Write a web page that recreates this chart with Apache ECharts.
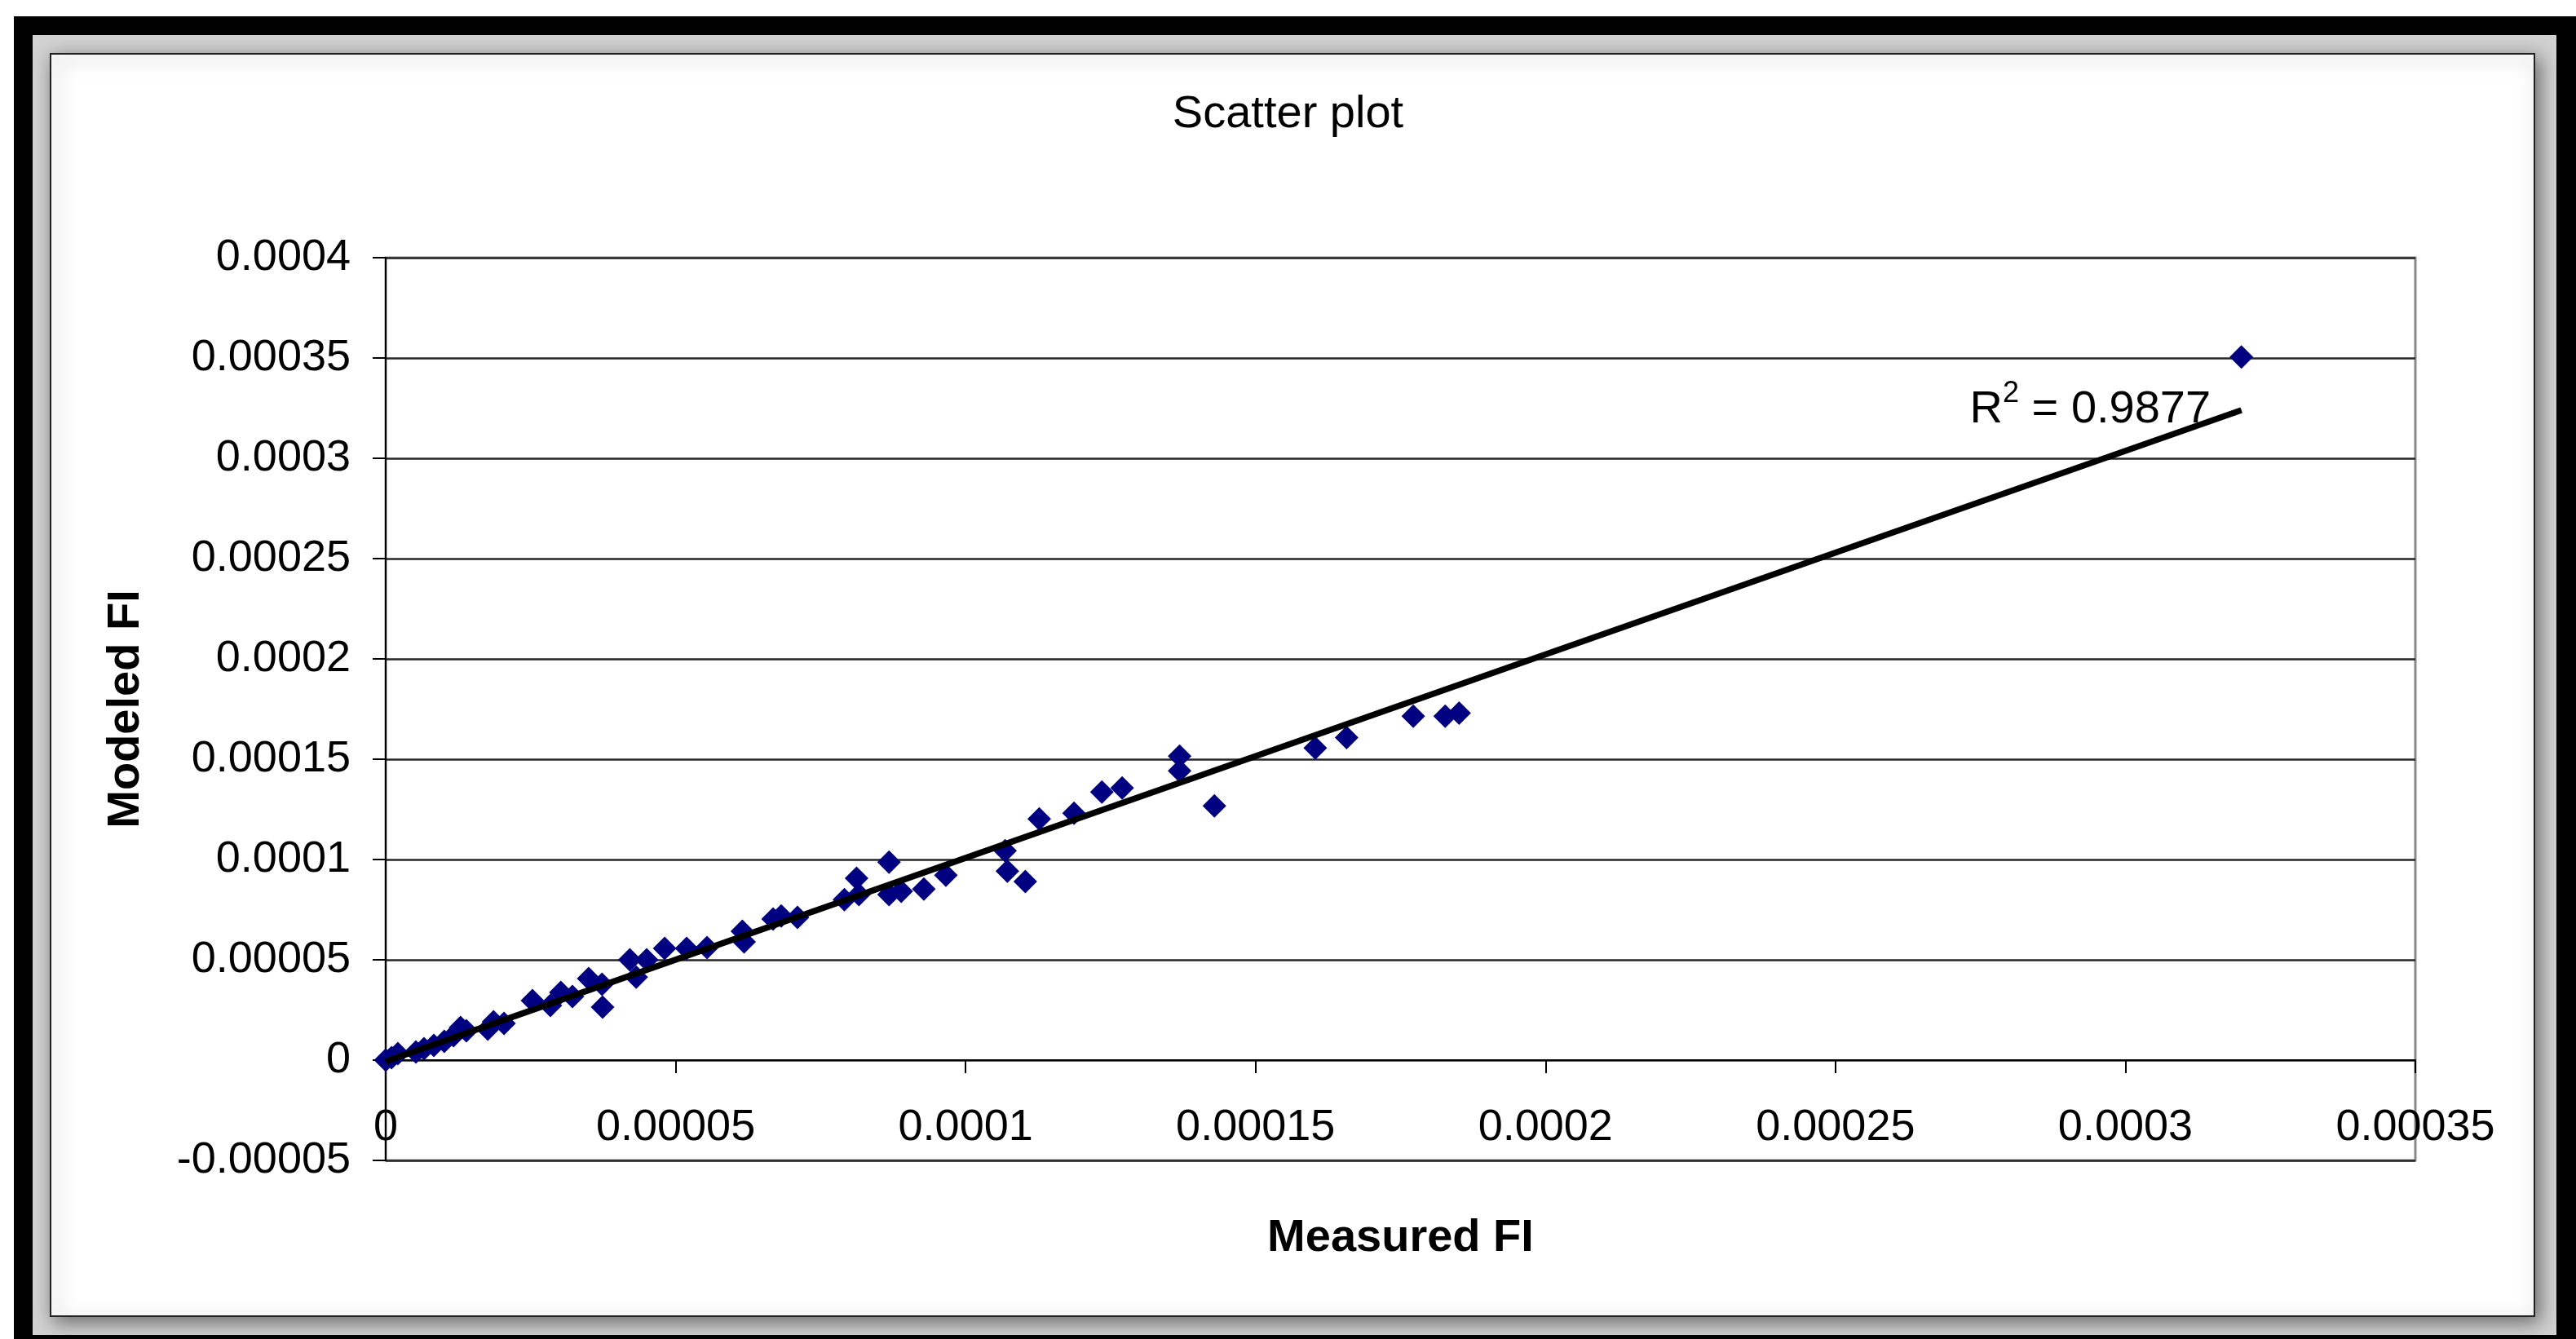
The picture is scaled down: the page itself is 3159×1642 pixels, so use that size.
<!DOCTYPE html>
<html>
<head>
<meta charset="utf-8">
<script src="https://cdn.jsdelivr.net/npm/echarts/dist/echarts.min.js"></script>
<style>
html,body{margin:0;padding:0;background:#fff;}
#c{width:3159px;height:1642px;}
</style>
</head>
<body>
<div id="c"></div>
<script>
// ---- data ----
const measuredFI = [
  0, 0.0000010, 0.0000021, 0.0000052, 0.0000066, 0.0000083, 0.0000101, 0.0000117,
  0.0000129, 0.0000139, 0.0000176, 0.0000186, 0.0000204, 0.0000253, 0.0000284, 0.0000302,
  0.0000322, 0.0000350, 0.0000373, 0.0000374, 0.0000421, 0.0000432, 0.0000450, 0.0000481,
  0.0000519, 0.0000554, 0.0000615, 0.0000618, 0.0000668, 0.0000682, 0.0000710, 0.0000791,
  0.0000812, 0.0000816, 0.0000868, 0.0000868, 0.0000889, 0.0000928, 0.0000966, 0.0001068,
  0.0001072, 0.0001103, 0.0001127, 0.0001187, 0.0001235, 0.0001270, 0.0001369, 0.0001369,
  0.0001429, 0.0001603, 0.0001657, 0.0001772, 0.0001827, 0.0001851, 0.0003200
];
const modeledFI = [
  0, 0.0000012, 0.0000033, 0.0000041, 0.0000057, 0.0000073, 0.0000093, 0.0000122,
  0.0000163, 0.0000146, 0.0000154, 0.0000191, 0.0000183, 0.0000297, 0.0000272, 0.0000337,
  0.0000317, 0.0000406, 0.0000378, 0.0000264, 0.0000500, 0.0000414, 0.0000500, 0.0000557,
  0.0000557, 0.0000561, 0.0000642, 0.0000589, 0.0000703, 0.0000719, 0.0000711, 0.0000800,
  0.0000906, 0.0000825, 0.0000987, 0.0000825, 0.0000841, 0.0000853, 0.0000922, 0.0001044,
  0.0000942, 0.0000890, 0.0001202, 0.0001231, 0.0001336, 0.0001357, 0.0001515, 0.0001442,
  0.0001267, 0.0001556, 0.0001608, 0.0001714, 0.0001714, 0.0001730, 0.0003505
];
const xTickLabels = ['0', '0.00005', '0.0001', '0.00015', '0.0002', '0.00025', '0.0003', '0.00035'];
const yTickLabels = ['-0.00005', '0', '0.00005', '0.0001', '0.00015', '0.0002', '0.00025', '0.0003', '0.00035', '0.0004'];
const rSquaredText = '0.9877';
const chartTitle = 'Scatter plot';
const xName = 'Measured FI';
const yName = 'Modeled FI';

// ---- axis settings ----
const X_MIN = 0, X_MAX = 0.00035, X_STEP = 0.00005;
const Y_MIN = -0.00005, Y_MAX = 0.0004, Y_STEP = 0.00005;

// ---- layout ----
const GRID = {left: 473, top: 316, width: 2489, height: 1107};
// the x axis crosses the y axis at 0: shift it up from the grid bottom by the scale position of 0
const X_AXIS_OFFSET = -((0 - Y_MIN) / (Y_MAX - Y_MIN)) * GRID.height;

// ---- linear trendline (least squares) ----
const n = measuredFI.length;
let sx = 0, sy = 0, sxx = 0, sxy = 0;
for (let i = 0; i < n; i++) {
  sx += measuredFI[i]; sy += modeledFI[i];
  sxx += measuredFI[i] * measuredFI[i]; sxy += measuredFI[i] * modeledFI[i];
}
const slope = (n * sxy - sx * sy) / (n * sxx - sx * sx);
const intercept = (sy - slope * sx) / n;
const xLo = Math.min.apply(null, measuredFI), xHi = Math.max.apply(null, measuredFI);

const FONT = "'Liberation Sans', Arial, sans-serif";
const chart = echarts.init(document.getElementById('c'), null, {renderer: 'canvas', width: 3159, height: 1642});

const points = measuredFI.map((x, i) => [x, modeledFI[i]]);

const option = {
  animation: false,
  backgroundColor: '#ffffff',
  graphic: [
    {type: 'rect', z: -100, silent: true, shape: {x: 17, y: 20, width: 3200, height: 1700}, style: {fill: '#000000'}},
    {type: 'rect', z: -99, silent: true, shape: {x: 40, y: 43, width: 3095, height: 1594}, style: {fill: '#d2d2d2'}},
    {type: 'rect', z: -98, silent: true, shape: {x: 62, y: 66, width: 3046, height: 1548},
     style: {fill: '#ffffff', stroke: '#222222', lineWidth: 2, shadowBlur: 22, shadowOffsetX: 5, shadowOffsetY: 6, shadowColor: 'rgba(0,0,0,0.5)'}}
  ],
  title: {
    text: chartTitle, left: 'center', top: 108, padding: [5, 5, 5, 21],
    textStyle: {fontFamily: FONT, fontSize: 56, fontWeight: 'normal', color: '#000'}
  },
  grid: {
    left: GRID.left, top: GRID.top, width: GRID.width, height: GRID.height,
    containLabel: false, outerBoundsMode: 'none',
    show: true, borderColor: '#8a8a8a', borderWidth: 3, backgroundColor: 'transparent'
  },
  xAxis: {
    type: 'value', min: X_MIN, max: X_MAX, interval: X_STEP,
    position: 'bottom', offset: X_AXIS_OFFSET,
    axisLine: {show: true, onZero: false, lineStyle: {color: '#000', width: 2}},
    axisTick: {show: true, inside: false, length: 16, lineStyle: {color: '#000', width: 2}},
    splitLine: {show: false},
    axisLabel: {
      show: true, margin: 56, fontFamily: FONT, fontSize: 54, color: '#000',
      showMinLabel: true, showMaxLabel: true,
      formatter: v => xTickLabels[Math.round((v - X_MIN) / X_STEP)]
    },
    name: xName, nameLocation: 'middle', nameGap: 191,
    nameTextStyle: {fontFamily: FONT, fontSize: 56, fontWeight: 'bold', color: '#000'}
  },
  yAxis: {
    type: 'value', min: Y_MIN, max: Y_MAX, interval: Y_STEP,
    axisLine: {show: true, onZero: false, lineStyle: {color: '#000', width: 2}},
    axisTick: {show: true, inside: false, length: 16, lineStyle: {color: '#000', width: 2}},
    splitLine: {show: true, lineStyle: {color: '#262626', width: 2.5}},
    axisLabel: {
      show: true, margin: 43, fontFamily: FONT, fontSize: 54, color: '#000',
      showMinLabel: true, showMaxLabel: true,
      formatter: v => yTickLabels[Math.round((v - Y_MIN) / Y_STEP)]
    },
    name: yName, nameLocation: 'middle', nameGap: 290, nameRotate: 90,
    nameTextStyle: {fontFamily: FONT, fontSize: 56, fontWeight: 'bold', color: '#000'}
  },
  series: [
    {
      type: 'scatter', name: 'FI', data: points, z: 2,
      symbol: 'diamond', symbolSize: 29,
      itemStyle: {color: '#000080', opacity: 1}
    },
    {
      type: 'line', name: 'Linear trend', z: 3,
      symbol: 'circle', symbolSize: 1, showSymbol: true,
      itemStyle: {color: '#000', opacity: 1},
      lineStyle: {color: '#000', width: 7.5},
      data: [
        {value: [xLo, intercept + slope * xLo]},
        {value: [xHi, intercept + slope * xHi],
         label: {
           show: true, position: 'left', distance: 37,
           formatter: 'R{sup|2} = ' + rSquaredText,
           fontFamily: FONT, fontSize: 56, lineHeight: 76, color: '#000',
           rich: {sup: {fontFamily: FONT, fontSize: 36, verticalAlign: 'top', color: '#000'}}
         }}
      ]
    }
  ]
};
chart.setOption(option);
</script>
</body>
</html>
